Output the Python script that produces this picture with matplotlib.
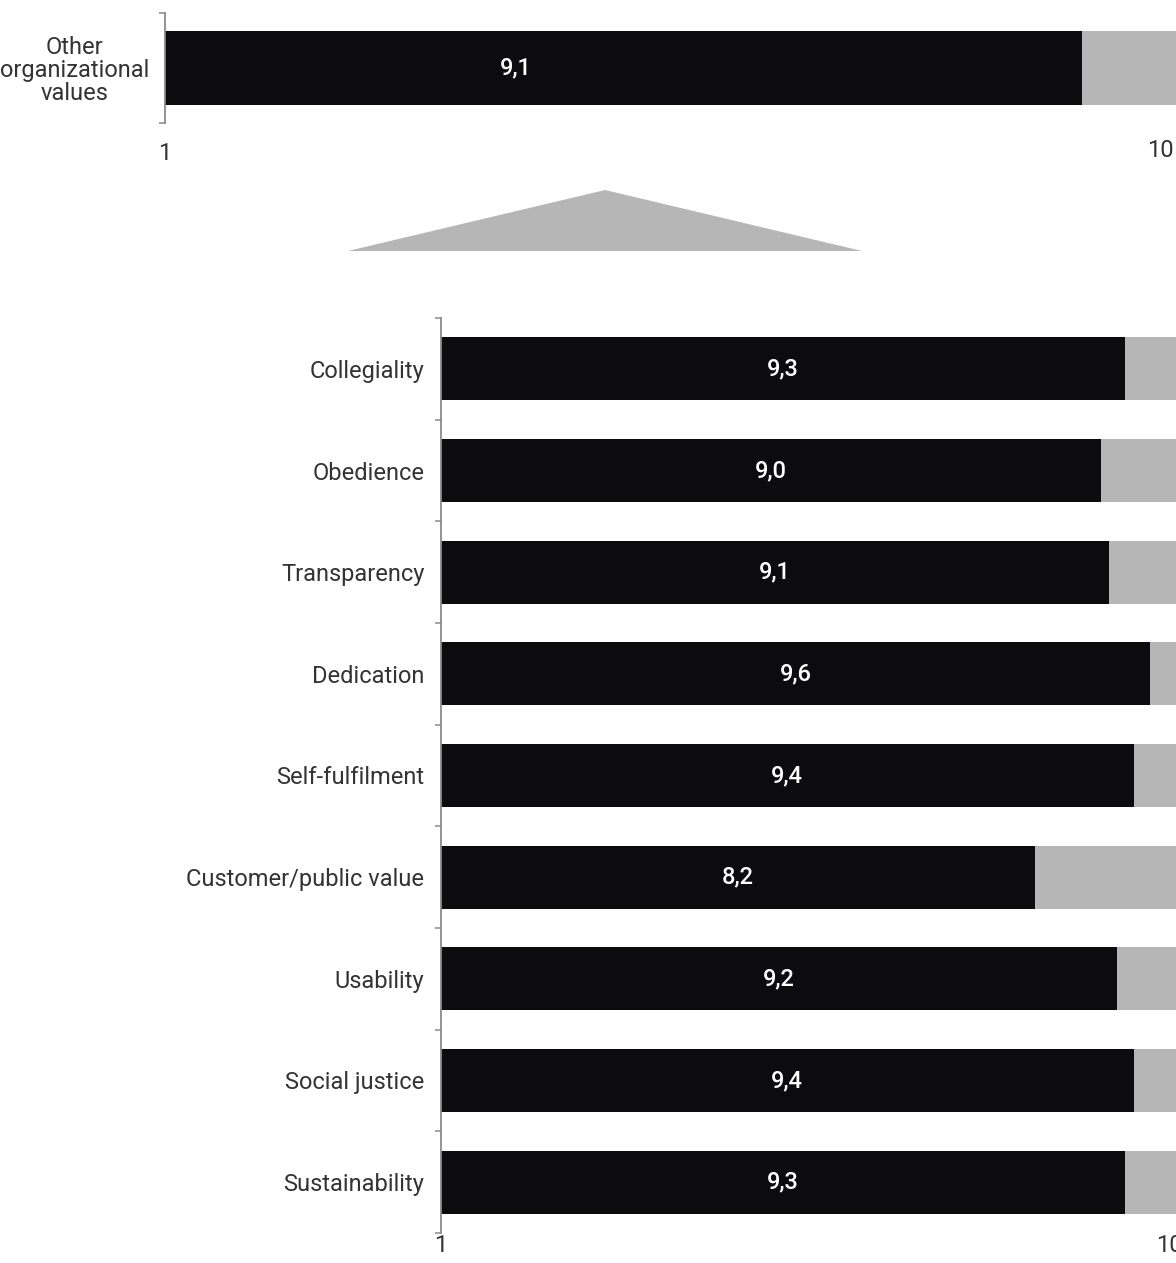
import matplotlib.pyplot as plt
from matplotlib.patches import Polygon

# -----------------------------
# Data
# -----------------------------
top_label = "Other\norganizational\nvalues"
top_value = 9.1

categories = ["Collegiality", "Obedience", "Transparency", "Dedication",
              "Self-fulfilment", "Customer/public value", "Usability",
              "Social justice", "Sustainability"]
values = [9.3, 9.0, 9.1, 9.6, 9.4, 8.2, 9.2, 9.4, 9.3]

scale_min, scale_max = 1, 10

BLACK = "#0c0b0d"
GREY = "#b5b6b5"
SPINE = "#8a8a8a"
TEXT = "#333333"
FS = 17

plt.rcParams["font.family"] = ["Roboto", "DejaVu Sans"]
plt.rcParams["font.size"] = FS

fig = plt.figure(figsize=(11.76, 12.63), dpi=100)


def style_axis(ax, n, xpad):
    ax.set_xlim(scale_min, scale_max)
    ax.set_ylim(n - 0.5, -0.5)
    for s in ["top", "right", "bottom"]:
        ax.spines[s].set_visible(False)
    ax.spines["left"].set_color(SPINE)
    ax.spines["left"].set_linewidth(1.3)
    ax.set_yticks([i - 0.5 for i in range(n + 1)], minor=True)
    ax.tick_params(axis="y", which="minor", length=4.5, width=1.1,
                   color=SPINE, direction="out")
    ax.tick_params(axis="y", which="major", length=0, pad=12,
                   labelcolor=TEXT, labelsize=FS)
    ax.tick_params(axis="x", length=0, pad=xpad, labelcolor=TEXT, labelsize=FS)


# -----------------------------
# Top: overall score
# -----------------------------
ax1 = fig.add_axes([165 / 1176, 1 - 123 / 1263, 1019 / 1176, 110 / 1263])
ax1.barh([0], [scale_max - scale_min], left=scale_min, height=0.67, color=GREY)
ax1.barh([0], [top_value - scale_min], left=scale_min, height=0.67, color=BLACK)
style_axis(ax1, 1, 14)
ax1.set_yticks([0])
ax1.set_yticklabels([top_label], multialignment="center", linespacing=1.0)
for lab in ax1.get_yticklabels():
    lab.set_horizontalalignment("center")
ax1.tick_params(axis="y", which="major", pad=65)
ax1.set_xticks([scale_min])
ax1.set_xticklabels(["1"])
ax1.annotate("10", xy=(scale_max, 0), xycoords=("data", "axes fraction"),
             xytext=(-17, -20), textcoords="offset points",
             ha="center", va="center", color=TEXT, fontsize=FS)
ax1.text(4.1, 0, f"{top_value:.1f}".replace(".", ","), color="white",
         ha="center", va="center", fontsize=FS, fontweight="medium")

# -----------------------------
# Triangle connector
# -----------------------------
tri = Polygon([(348 / 1176, 1 - 251 / 1263), (862 / 1176, 1 - 251 / 1263),
               (605 / 1176, 1 - 190 / 1263)], closed=True,
              transform=fig.transFigure, facecolor=GREY, edgecolor="none")
fig.patches.append(tri)

# -----------------------------
# Bottom: individual values
# -----------------------------
ax2 = fig.add_axes([441 / 1176, 1 - 1233 / 1263, 742 / 1176, 915 / 1263])
pos = list(range(len(categories)))
ax2.barh(pos, [scale_max - scale_min] * len(pos), left=scale_min,
         height=0.62, color=GREY)
ax2.barh(pos, [v - scale_min for v in values], left=scale_min,
         height=0.62, color=BLACK)
style_axis(ax2, len(categories), 1)
ax2.set_yticks(pos)
ax2.set_yticklabels(categories)
ax2.set_xticks([scale_min, scale_max])
ax2.set_xticklabels(["1", "10"])
ax2.get_xticklabels()[-1].set_horizontalalignment("right")
for p, v in zip(pos, values):
    ax2.text((scale_min + v) / 2, p, f"{v:.1f}".replace(".", ","),
             color="white", ha="center", va="center",
             fontsize=FS, fontweight="medium")

plt.savefig("out.png", dpi=100)
